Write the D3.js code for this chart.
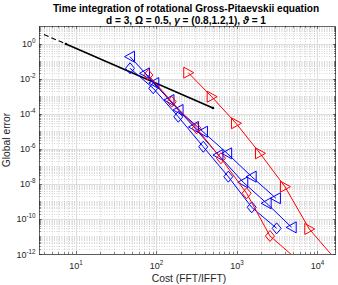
<!DOCTYPE html>
<html>
<head>
<meta charset="utf-8">
<script src="https://cdn.jsdelivr.net/npm/d3@7"></script>
<style>
body { margin: 0; background: #fff; }
svg { font-family: "Liberation Sans", Arial, Helvetica, sans-serif; }
</style>
</head>
<body>
<div id="container"></div>
<script>
/* Data (cost vs global error) */
var refDashCost = [4, 7.5],
	refDashErr = [3.3, 0.94];
var refCost = [7.5, 503],
	refErr = [0.94, 2.1e-4];

var redTriCost = [248, 485, 972, 1932, 3945, 7910, 15800],
	redTriErr = [0.0218, 9.3e-4, 2.84e-5, 5.5e-7, 6.9e-9, 2.67e-11, 6.7e-13];
var redDiaCost = [79.1, 154.5, 315, 632, 1318, 2570, 5150],
	redDiaErr = [0.0161, 4.83e-4, 1.47e-5, 2.87e-7, 2.9e-9, 1.06e-11, 6.7e-13];

var blueTriACost = [46.9, 93.9, 188, 378, 755, 1524, 3048],
	blueTriAErr = [0.178, 5.6e-3, 1.63e-4, 9.4e-6, 5.5e-7, 2.56e-8, 1.5e-9];
var blueTriBCost = [72, 145, 292, 589, 1197, 2339, 4786],
	blueTriBErr = [0.0201, 6.0e-4, 1.75e-5, 4.4e-7, 1.23e-8, 7.8e-10, 3.3e-11];
var blueDiaCost = [46.9, 91.2, 186.6, 381, 780, 1524, 3112],
	blueDiaErr = [0.0387, 2.8e-3, 6.7e-5, 1.3e-6, 2.56e-8, 4.6e-10, 2.9e-11];

var xTicks = [1e1, 1e2, 1e3, 1e4],
	xTickExp = ["1", "2", "3", "4"];
var yTicks = [1e0, 1e-2, 1e-4, 1e-6, 1e-8, 1e-10, 1e-12],
	yTickExp = ["0", "-2", "-4", "-6", "-8", "-10", "-12"];

var titleLine1 = "Time integration of rotational Gross-Pitaevskii equation";
var xLabel = "Cost (FFT/IFFT)",
	yLabel = "Global error";

/* Layout */
var w = 338, h = 285;
var plot = {left: 39, right: 336, top: 26, bottom: 254};
var axisColor = "#262626";

var svg = d3.select("#container").append("svg")
	.attr("width", w)
	.attr("height", h);

var xScale = d3.scaleLog()
		.domain([3.47, 17000])
		.range([plot.left, plot.right]),
	yScale = d3.scaleLog()
		.domain([1e-12, 10])
		.range([plot.bottom, plot.top]);

/* Grid */
var xMinor = [], yMinor = [];
for (var k = 0; k <= 4; k++) {
	for (var m = 1; m <= 9; m++) {
		var v = m * Math.pow(10, k);
		if (v > 3.47 && v < 17000 && !(m == 1 && k >= 1)) xMinor.push(v);
	}
}
for (var k = -12; k <= 0; k++) {
	for (var m = 1; m <= 9; m++) {
		var v = m * Math.pow(10, k);
		if (v > 1e-12 && v < 10 && !(m == 1 && k % 2 == 0)) yMinor.push(v);
	}
}

var grid = svg.append("g").classed("grid", true);
grid.selectAll(".xminor").data(xMinor).enter().append("line")
	.attr("x1", d => Math.round(xScale(d)) + 0.5).attr("x2", d => Math.round(xScale(d)) + 0.5)
	.attr("y1", plot.top).attr("y2", plot.bottom)
	.attr("stroke", "#bdbdbd").attr("stroke-width", 0.6).attr("stroke-dasharray", "1,1.5");
grid.selectAll(".yminor").data(yMinor).enter().append("line")
	.attr("y1", d => Math.round(yScale(d)) + 0.5).attr("y2", d => Math.round(yScale(d)) + 0.5)
	.attr("x1", plot.left).attr("x2", plot.right)
	.attr("stroke", "#bdbdbd").attr("stroke-width", 0.6).attr("stroke-dasharray", "1,1.5");
grid.selectAll(".xmajor").data(xTicks).enter().append("line")
	.attr("x1", d => Math.round(xScale(d)) + 0.5).attr("x2", d => Math.round(xScale(d)) + 0.5)
	.attr("y1", plot.top).attr("y2", plot.bottom)
	.attr("stroke", "#dedede").attr("stroke-width", 1);
grid.selectAll(".ymajor").data(yTicks).enter().append("line")
	.attr("y1", d => Math.round(yScale(d)) + 0.5).attr("y2", d => Math.round(yScale(d)) + 0.5)
	.attr("x1", plot.left).attr("x2", plot.right)
	.attr("stroke", "#dedede").attr("stroke-width", 1);

/* Ticks on all four sides (inward) */
var ticks = svg.append("g").attr("stroke", axisColor).attr("stroke-width", 0.6);
function tickSet(vals, len) {
	vals.forEach(function(d) {
		var x = Math.round(xScale(d)) + 0.5;
		ticks.append("line").attr("x1", x).attr("x2", x).attr("y1", plot.bottom).attr("y2", plot.bottom - len);
		ticks.append("line").attr("x1", x).attr("x2", x).attr("y1", plot.top).attr("y2", plot.top + len);
	});
}
function yTickSet(vals, len) {
	vals.forEach(function(d) {
		var y = Math.round(yScale(d)) + 0.5;
		ticks.append("line").attr("y1", y).attr("y2", y).attr("x1", plot.left).attr("x2", plot.left + len);
		ticks.append("line").attr("y1", y).attr("y2", y).attr("x1", plot.right).attr("x2", plot.right - len);
	});
}
tickSet(xTicks, 3);
tickSet(xMinor, 1.8);
yTickSet(yTicks, 3);
yTickSet(yMinor, 1.8);

/* Box */
svg.append("rect")
	.attr("x", plot.left + 0.5).attr("y", plot.top + 0.5)
	.attr("width", plot.right - plot.left - 1).attr("height", plot.bottom - plot.top)
	.attr("fill", "none").attr("stroke", axisColor).attr("stroke-width", 0.7);

/* Tick labels */
var xLab = svg.append("g").attr("fill", axisColor).attr("font-size", 9);
xTicks.forEach(function(d, i) {
	var t = xLab.append("text").attr("x", xScale(d)).attr("y", 269).attr("text-anchor", "middle");
	t.append("tspan").text("10");
	t.append("tspan").attr("dy", -4).attr("font-size", 6.3).text(xTickExp[i]);
});
var yLab = svg.append("g").attr("fill", axisColor).attr("font-size", 9);
yTicks.forEach(function(d, i) {
	var t = yLab.append("text").attr("x", 35.5).attr("y", yScale(d) + 3.5).attr("text-anchor", "end");
	t.append("tspan").text("10");
	t.append("tspan").attr("dy", -4).attr("font-size", 6.3).text(yTickExp[i]);
});

/* Axis labels */
svg.append("text")
	.attr("x", 189).attr("y", 282)
	.attr("text-anchor", "middle").attr("font-size", 10.3).attr("fill", axisColor)
	.text(xLabel);
svg.append("text")
	.attr("transform", "translate(10," + (plot.top + plot.bottom) / 2 + ") rotate(-90)")
	.attr("text-anchor", "middle").attr("font-size", 10.3).attr("fill", axisColor)
	.text(yLabel);

/* Title */
var title = svg.append("g").attr("font-weight", "bold").attr("font-size", 10.1)
	.attr("fill", "#000").attr("text-anchor", "middle");
title.append("text").attr("x", 186).attr("y", 12).text(titleLine1);
var t2 = title.append("text").attr("x", 186).attr("y", 24);
t2.append("tspan").text("d = 3, \u03A9 = 0.5, ");
t2.append("tspan").attr("font-style", "italic").text("\u03B3");
t2.append("tspan").text(" = (0.8,1.2,1), ");
t2.append("tspan").attr("font-style", "italic").text("\u03D1");
t2.append("tspan").text(" = 1");

/* Data lines */
svg.append("clipPath").attr("id", "clip")
	.append("rect").attr("x", plot.left).attr("y", plot.top)
	.attr("width", plot.right - plot.left).attr("height", plot.bottom - plot.top);

var chart = svg.append("g").attr("clip-path", "url(#clip)");

var line = d3.line()
	.x(d => xScale(d[0]))
	.y(d => yScale(d[1]));

function zip(a, b) { return a.map((v, i) => [v, b[i]]); }

var triLeft = "M-5.5,0L4.5,-5.5L4.5,5.5Z",
	triRight = "M5.5,0L-4.5,-5.5L-4.5,5.5Z",
	diamond = "M0,-5.5L4.5,0L0,5.5L-4.5,0Z";

function series(cost, err, color, marker) {
	var pts = zip(cost, err);
	chart.append("path")
		.attr("d", line(pts))
		.attr("fill", "none").attr("stroke", color).attr("stroke-width", 1);
	chart.selectAll(null).data(pts.filter(d => d[1] >= 1e-12)).enter().append("path")
		.attr("d", marker)
		.attr("transform", d => "translate(" + xScale(d[0]) + "," + yScale(d[1]) + ")")
		.attr("fill", "none").attr("stroke", color).attr("stroke-width", 1);
}

/* reference slope line */
chart.append("path")
	.attr("d", line(zip(refDashCost, refDashErr)))
	.attr("fill", "none").attr("stroke", "#000").attr("stroke-width", 1.1)
	.attr("stroke-dasharray", "5,3");
chart.append("path")
	.attr("d", line(zip(refCost, refErr)))
	.attr("fill", "none").attr("stroke", "#000").attr("stroke-width", 1.5);
chart.selectAll(null).data(zip(refCost, refErr)).enter().append("circle")
	.attr("cx", d => xScale(d[0])).attr("cy", d => yScale(d[1]))
	.attr("r", 1.3).attr("fill", "#000");

series(blueTriACost, blueTriAErr, "#0000ff", triLeft);
series(blueTriBCost, blueTriBErr, "#0000ff", triLeft);
series(blueDiaCost, blueDiaErr, "#0000ff", diamond);
series(redDiaCost, redDiaErr, "#ff0000", diamond);
series(redTriCost, redTriErr, "#ff0000", triRight);
</script>
</body>
</html>
